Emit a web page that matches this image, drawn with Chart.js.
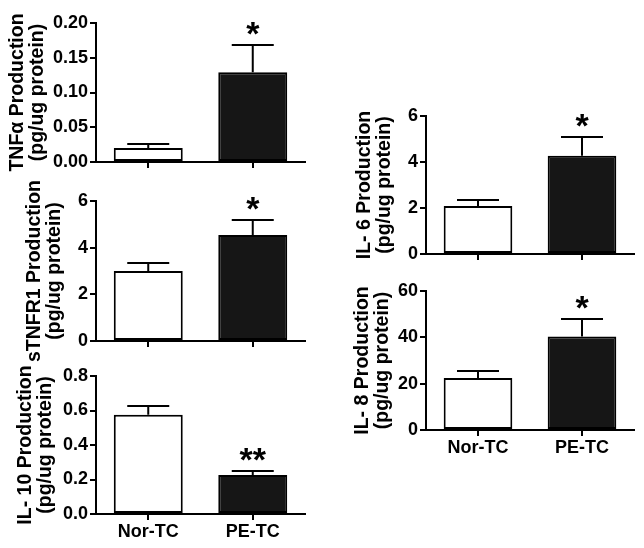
<!DOCTYPE html>
<html>
<head>
<meta charset="utf-8">
<script src="https://cdn.jsdelivr.net/npm/chart.js@4/dist/chart.umd.min.js"></script>
<style>
html, body { margin: 0; padding: 0; background: #fff; }
#wrap { position: relative; width: 644px; height: 548px; overflow: hidden; }
canvas { position: absolute; }
</style>
</head>
<body>
<div id="wrap"></div>
<script>
// dados (média + erro padrão)
const groups = ['Nor-TC', 'PE-TC'];

const tnfMean = [0.020, 0.129];
const tnfSem = [0.006, 0.039];
const tnfSig = ['', '*'];
const tnfTicks = ['0.00', '0.05', '0.10', '0.15', '0.20'];

const stnfr1Mean = [3.00, 4.54];
const stnfr1Sem = [0.33, 0.65];
const stnfr1Sig = ['', '*'];
const stnfr1Ticks = ['0', '2', '4', '6'];

const il10Mean = [0.575, 0.226];
const il10Sem = [0.050, 0.025];
const il10Sig = ['', '**'];
const il10Ticks = ['0.0', '0.2', '0.4', '0.6', '0.8'];

const il6Mean = [2.09, 4.27];
const il6Sem = [0.26, 0.82];
const il6Sig = ['', '*'];
const il6Ticks = ['0', '2', '4', '6'];

const il8Mean = [22.4, 40.4];
const il8Sem = [3.2, 7.4];
const il8Sig = ['', '*'];
const il8Ticks = ['0', '20', '40', '60'];

const FONT = '"Liberation Sans", Arial, Helvetica, sans-serif';

// barras de erro (só o lado de cima) e asteriscos
const errorBars = {
    id: 'errorBars',
    afterDatasetsDraw(chart, args, opts) {
        const ctx = chart.ctx;
        const y = chart.scales.y;
        const meta = chart.getDatasetMeta(0);
        ctx.save();
        ctx.strokeStyle = '#000';
        ctx.fillStyle = '#000';
        ctx.lineWidth = 2;
        meta.data.forEach((bar, i) => {
            const y0 = y.getPixelForValue(opts.mean[i]);
            const y1 = Math.round(y.getPixelForValue(opts.mean[i] + opts.sem[i]));
            ctx.beginPath();
            ctx.moveTo(bar.x, y0);
            ctx.lineTo(bar.x, y1);
            ctx.moveTo(bar.x - 21, y1);
            ctx.lineTo(bar.x + 21, y1);
            ctx.stroke();
            if (opts.sig[i]) {
                ctx.font = 'bold 34px ' + FONT;
                ctx.textAlign = 'center';
                ctx.textBaseline = 'alphabetic';
                ctx.fillText(opts.sig[i], bar.x, y1);
            }
        });
        ctx.restore();
    }
};

function criarPainel(p) {
    const canvas = document.createElement('canvas');
    const cTop = p.top - 30;
    canvas.width = p.width;
    canvas.height = p.bottom - p.top + 80;
    canvas.style.left = p.left + 'px';
    canvas.style.top = cTop + 'px';
    document.getElementById('wrap').appendChild(canvas);

    const eixo = {
        grid: { display: true, drawOnChartArea: false, offset: false, tickLength: 6, lineWidth: 2, color: '#000' },
        border: { display: true, color: '#000', width: 2 }
    };

    new Chart(canvas, {
        type: 'bar',
        data: {
            labels: groups,
            datasets: [{
                data: p.mean,
                backgroundColor: ['#ffffff', '#161616'],
                borderColor: '#000',
                borderWidth: 2,
                borderSkipped: false,
                barPercentage: 0.66,
                categoryPercentage: 1
            }]
        },
        options: {
            responsive: false,
            animation: false,
            devicePixelRatio: 1,
            layout: { padding: { left: 0, top: 30, right: p.left + p.width - p.right, bottom: 5 } },
            plugins: {
                legend: { display: false },
                tooltip: { enabled: false },
                errorBars: { mean: p.mean, sem: p.sem, sig: p.sig }
            },
            scales: {
                x: {
                    ...eixo,
                    ticks: { display: p.labels, color: '#000', padding: 1, font: { family: FONT, size: 18, weight: 'bold' } },
                    afterFit: s => { s.height = 45; }
                },
                y: {
                    ...eixo,
                    min: 0,
                    max: parseFloat(p.ticks[p.ticks.length - 1]),
                    ticks: {
                        stepSize: parseFloat(p.ticks[1]),
                        color: '#000',
                        padding: 2,
                        font: { family: FONT, size: 18, weight: 'bold' },
                        callback: (v, i) => p.ticks[i]
                    },
                    title: {
                        display: true,
                        text: p.title,
                        color: '#000',
                        padding: { top: p.titlePad, bottom: 0 },
                        font: { family: FONT, size: 19.5, weight: 'bold', lineHeight: 1.04 }
                    },
                    afterFit: s => { s.width = p.axisX - p.left; }
                }
            }
        },
        plugins: [errorBars]
    });
}

criarPainel({ mean: tnfMean, sem: tnfSem, sig: tnfSig, ticks: tnfTicks, title: ['TNFα Production', '(pg/ug protein)'],
    labels: false, left: 0, width: 320, axisX: 96, right: 305, top: 23, bottom: 162, titlePad: 7 });
criarPainel({ mean: stnfr1Mean, sem: stnfr1Sem, sig: stnfr1Sig, ticks: stnfr1Ticks, title: ['sTNFR1 Production', '(pg/ug protein)'],
    labels: false, left: 0, width: 320, axisX: 96, right: 305, top: 201, bottom: 341, titlePad: 24.5 });
criarPainel({ mean: il10Mean, sem: il10Sem, sig: il10Sig, ticks: il10Ticks, title: ['IL- 10 Production', '(pg/ug protein)'],
    labels: true, left: 0, width: 320, axisX: 96, right: 305, top: 376, bottom: 514, titlePad: 15 });
criarPainel({ mean: il6Mean, sem: il6Sem, sig: il6Sig, ticks: il6Ticks, title: ['IL- 6 Production', '(pg/ug protein)'],
    labels: false, left: 330, width: 314, axisX: 426, right: 634, top: 116, bottom: 254, titlePad: 24 });
criarPainel({ mean: il8Mean, sem: il8Sem, sig: il8Sig, ticks: il8Ticks, title: ['IL- 8 Production', '(pg/ug protein)'],
    labels: true, left: 330, width: 314, axisX: 426, right: 634, top: 291, bottom: 430, titlePad: 22 });
</script>
</body>
</html>
